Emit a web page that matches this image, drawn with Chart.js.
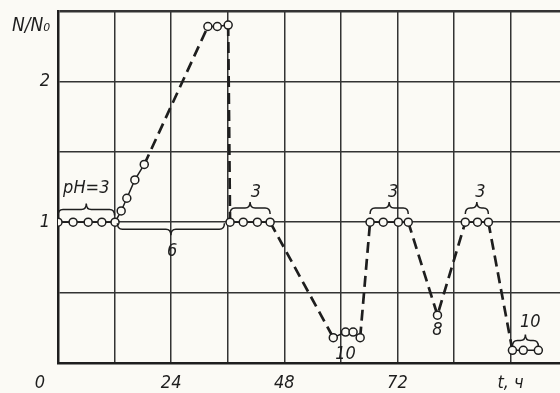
<!DOCTYPE html>
<html>
<head>
<meta charset="utf-8">
<script src="https://cdn.jsdelivr.net/npm/chart.js@4.4.1/dist/chart.umd.min.js"></script>
<style>
  html, body { margin: 0; padding: 0; background: #fbfaf5; overflow: hidden; }
  #wrap { width: 566px; height: 393px; position: relative; }
</style>
</head>
<body>
<div id="wrap"><canvas id="c"></canvas></div>
<script>
// N/N0 vs time (hours)
const hours = [0, 3.2, 6.4, 9.3, 12.1, 13.4, 14.6, 16.3, 18.3,
               31.8, 33.8, 36.1,
               36.5, 39.3, 42.3, 45.0,
               58.4, 61.0, 62.6, 64.1,
               66.2, 69.0, 72.2, 74.3,
               80.5,
               86.4, 89.0, 91.3,
               96.4, 98.7, 101.9];
const ratio = [1, 1, 1, 1, 1, 1.08, 1.17, 1.30, 1.41,
               2.39, 2.39, 2.40,
               1, 1, 1, 1,
               0.18, 0.22, 0.22, 0.18,
               1, 1, 1, 1,
               0.34,
               1, 1, 1,
               0.09, 0.09, 0.09];
// which pH run each point belongs to (solid inside a run, dashed between)
const phase = [0, 0, 0, 0, 0, 0, 0, 0, 0,
               1, 1, 1,
               2, 2, 2, 2,
               3, 3, 3, 3,
               4, 4, 4, 4,
               5,
               6, 6, 6,
               7, 7, 7];

const xTickValues = [24, 48, 72, 96];
const xTickText = ['24', '48', '72', 't, ч'];
const yTickValues = [1, 2];
const yTickText = ['1', '2'];

// pH annotations: braces (from, to, level, direction) and their numbers
const braceFrom  = [0,    12.6, 36.5, 66.2, 86.4, 96.4];
const braceTo    = [12.0, 35.3, 45.0, 74.3, 91.3, 101.9];
const braceLevel = [1.09, 0.95, 1.10, 1.10, 1.10, 0.16];
const braceDir   = [-1,   1,    -1,   -1,   -1,   -1];
const noteText = ['pH=3', '6', '3', '3', '3', '10', '8', '10'];
const noteX    = [6.0,    24.2, 42.0, 71.1, 89.6, 61.0, 80.5, 100.2];
const noteY    = [1.24,   0.79, 1.21, 1.21, 1.21, 0.06, 0.23, 0.29];

const INK = '#1e1e1e';
const FAMILY = "'Liberation Sans Narrow', 'DejaVu Sans Condensed', sans-serif";

function brace(ctx, x1, x2, y, dir) {
  // dir -1: tip points up, 1: tip points down
  const h = 6 * dir, mid = (x1 + x2) / 2;
  ctx.beginPath();
  ctx.moveTo(x1, y - h);
  ctx.quadraticCurveTo(x1, y, x1 + 5, y);
  ctx.lineTo(mid - 5, y);
  ctx.quadraticCurveTo(mid, y, mid, y + h);
  ctx.quadraticCurveTo(mid, y, mid + 5, y);
  ctx.lineTo(x2 - 5, y);
  ctx.quadraticCurveTo(x2, y, x2, y - h);
  ctx.stroke();
}

const notes = {
  id: 'notes',
  afterDatasetsDraw(chart) {
    const ctx = chart.ctx, xs = chart.scales.x, ys = chart.scales.y;
    ctx.save();
    ctx.strokeStyle = INK;
    ctx.lineWidth = 1.5;
    for (let i = 0; i < braceFrom.length; i++) {
      brace(ctx, xs.getPixelForValue(braceFrom[i]), xs.getPixelForValue(braceTo[i]),
            ys.getPixelForValue(braceLevel[i]), braceDir[i]);
    }
    ctx.fillStyle = INK;
    ctx.font = 'italic 18px ' + FAMILY;
    ctx.textAlign = 'center';
    ctx.textBaseline = 'middle';
    for (let i = 0; i < noteText.length; i++) {
      ctx.fillText(noteText[i], xs.getPixelForValue(noteX[i]), ys.getPixelForValue(noteY[i]));
    }
    // origin and axis name
    ctx.fillText('0', xs.left - 18, ys.bottom + 20);
    ctx.font = 'italic 19px ' + FAMILY;
    ctx.fillText('N/N₀', xs.left - 27, ys.top + 15);
    ctx.restore();
  }
};

new Chart(document.getElementById('c'), {
  type: 'line',
  data: {
    datasets: [{
      data: hours.map((t, i) => ({ x: t, y: ratio[i] })),
      borderColor: INK,
      borderWidth: 1.5,
      borderDash: [],
      pointRadius: 4,
      pointBackgroundColor: '#fbfaf5',
      pointBorderColor: INK,
      pointBorderWidth: 1.5,
      tension: 0,
      segment: {
        borderDash: c => phase[c.p0DataIndex] === phase[c.p1DataIndex] ? undefined : [11, 6],
        borderWidth: c => phase[c.p0DataIndex] === phase[c.p1DataIndex] ? undefined : 2.7
      }
    }]
  },
  options: {
    responsive: true,
    maintainAspectRatio: false,
    animation: false,
    layout: { padding: { top: 11, right: 0, left: 0, bottom: 0 } },
    plugins: { legend: { display: false }, tooltip: { enabled: false } },
    scales: {
      x: {
        type: 'linear', min: 0, max: 106.6,
        afterFit: s => { s.height = 30; },
        border: { color: INK, width: 2.5 },
        grid: { color: '#333', lineWidth: 1.5, drawTicks: false },
        ticks: {
          stepSize: 12, includeBounds: false, autoSkip: false, maxRotation: 0,
          padding: 10, color: INK,
          font: { family: FAMILY, size: 18, style: 'italic' },
          callback: v => { const k = xTickValues.indexOf(v); return k < 0 ? '' : xTickText[k]; }
        }
      },
      y: {
        min: 0, max: 2.5,
        afterFit: s => { s.width = 58; s.paddingTop = 0; s.paddingBottom = 0; },
        border: { color: INK, width: 2.5 },
        grid: {
          color: '#333', drawTicks: false,
          lineWidth: c => c.tick && c.tick.value === 2.5 ? 2.5 : 1.5
        },
        ticks: {
          stepSize: 0.5, includeBounds: false, autoSkip: false,
          padding: 8, color: INK,
          font: { family: FAMILY, size: 18, style: 'italic', lineHeight: 0.6 },
          callback: v => { const k = yTickValues.indexOf(v); return k < 0 ? '' : yTickText[k]; }
        }
      }
    }
  },
  plugins: [notes]
});
</script>
</body>
</html>
